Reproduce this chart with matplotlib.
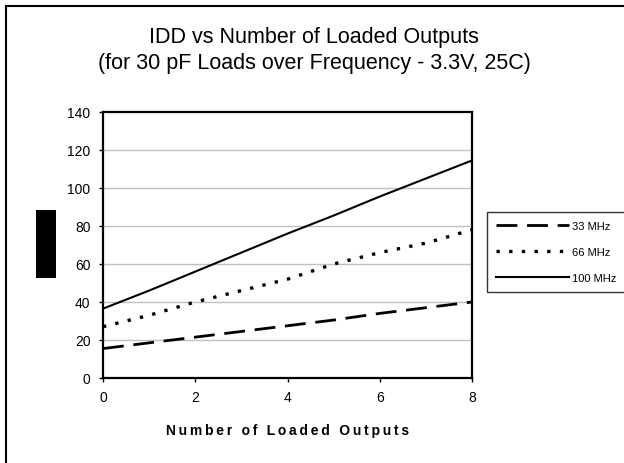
import matplotlib
matplotlib.use("Agg")
import matplotlib.pyplot as plt
from matplotlib.patches import Rectangle

# ---- data ----
outputs = [0, 1, 2, 3, 4, 5, 6, 7, 8]
idd_33 = [15.5, 18.5, 21.5, 24.5, 27.5, 30.5, 34, 37, 40]
idd_66 = [27, 33, 40, 46, 52, 60, 66, 71, 78]
idd_100 = [36.5, 46, 56, 66, 76, 85.5, 95.5, 105, 114.5]
series_labels = ["33 MHz", "66 MHz", "100 MHz"]
x_ticks = [0, 2, 4, 6, 8]
y_ticks = [0, 20, 40, 60, 80, 100, 120, 140]
title_line1 = "IDD vs Number of Loaded Outputs"
title_line2 = "(for 30 pF Loads over Frequency - 3.3V, 25C)"
xlabel = "Number of Loaded Outputs"

plt.rcParams['font.family'] = ['Liberation Sans', 'DejaVu Sans']

W, H = 624, 464
fig = plt.figure(figsize=(W / 100, H / 100), dpi=100)
fig.patch.set_facecolor("white")

def fx(px):
    return px / W

def fy(py):
    return 1 - py / H

# axes from (103,113) to (472,379)
ax = fig.add_axes([fx(103), fy(379), fx(472) - fx(103), fy(113) - fy(379)])

l33, = ax.plot(outputs, idd_33, color="black", lw=2.0, dashes=(7.5, 3.5), label=series_labels[0])
l66, = ax.plot(outputs, idd_66, color="black", lw=2.4, dashes=(1.0, 2.8), label=series_labels[1])
l100, = ax.plot(outputs, idd_100, color="black", lw=1.5, label=series_labels[2])

ax.set_xlim(0, 8)
ax.set_ylim(0, 140)
ax.set_xticks(x_ticks)
ax.set_yticks(y_ticks)
ax.tick_params(axis="both", direction="out", length=3, width=1, labelsize=10, colors="black", pad=6)
for v in y_ticks[1:-1]:
    ax.axhline(v, color="#c0c0c0", lw=1, zorder=0)
for s in ax.spines.values():
    s.set_linewidth(1.6)
    s.set_color("black")

fig.text(0.5 * (fx(103) + fx(472)), fy(431), "\u2009".join(xlabel), ha="center", va="center",
         fontsize=10, fontweight="bold")

fig.text(fx(314), fy(38), title_line1, ha="center", va="center", fontsize=15.5)
fig.text(fx(314), fy(63), title_line2, ha="center", va="center", fontsize=15.5)

# black block where the y label sits
fig.patches.append(Rectangle((fx(36), fy(279)), fx(56) - fx(36), fy(211) - fy(279),
                             transform=fig.transFigure, facecolor="black", edgecolor="none"))

# outer border
fig.patches.append(Rectangle((fx(6), fy(470)), fx(640) - fx(6), fy(7) - fy(470),
                             transform=fig.transFigure, facecolor="none", edgecolor="black", lw=1.5))

leg = fig.legend(handles=[l33, l66, l100], loc="upper left",
                 bbox_to_anchor=(fx(487), fy(213)), borderaxespad=0,
                 fontsize=8, handlelength=6.6, handletextpad=0.25,
                 labelspacing=1.45, borderpad=0.8, fancybox=False, frameon=True)
leg.get_frame().set_edgecolor("black")
leg.get_frame().set_linewidth(1)

fig.savefig("out.png", dpi=100, facecolor="white")
